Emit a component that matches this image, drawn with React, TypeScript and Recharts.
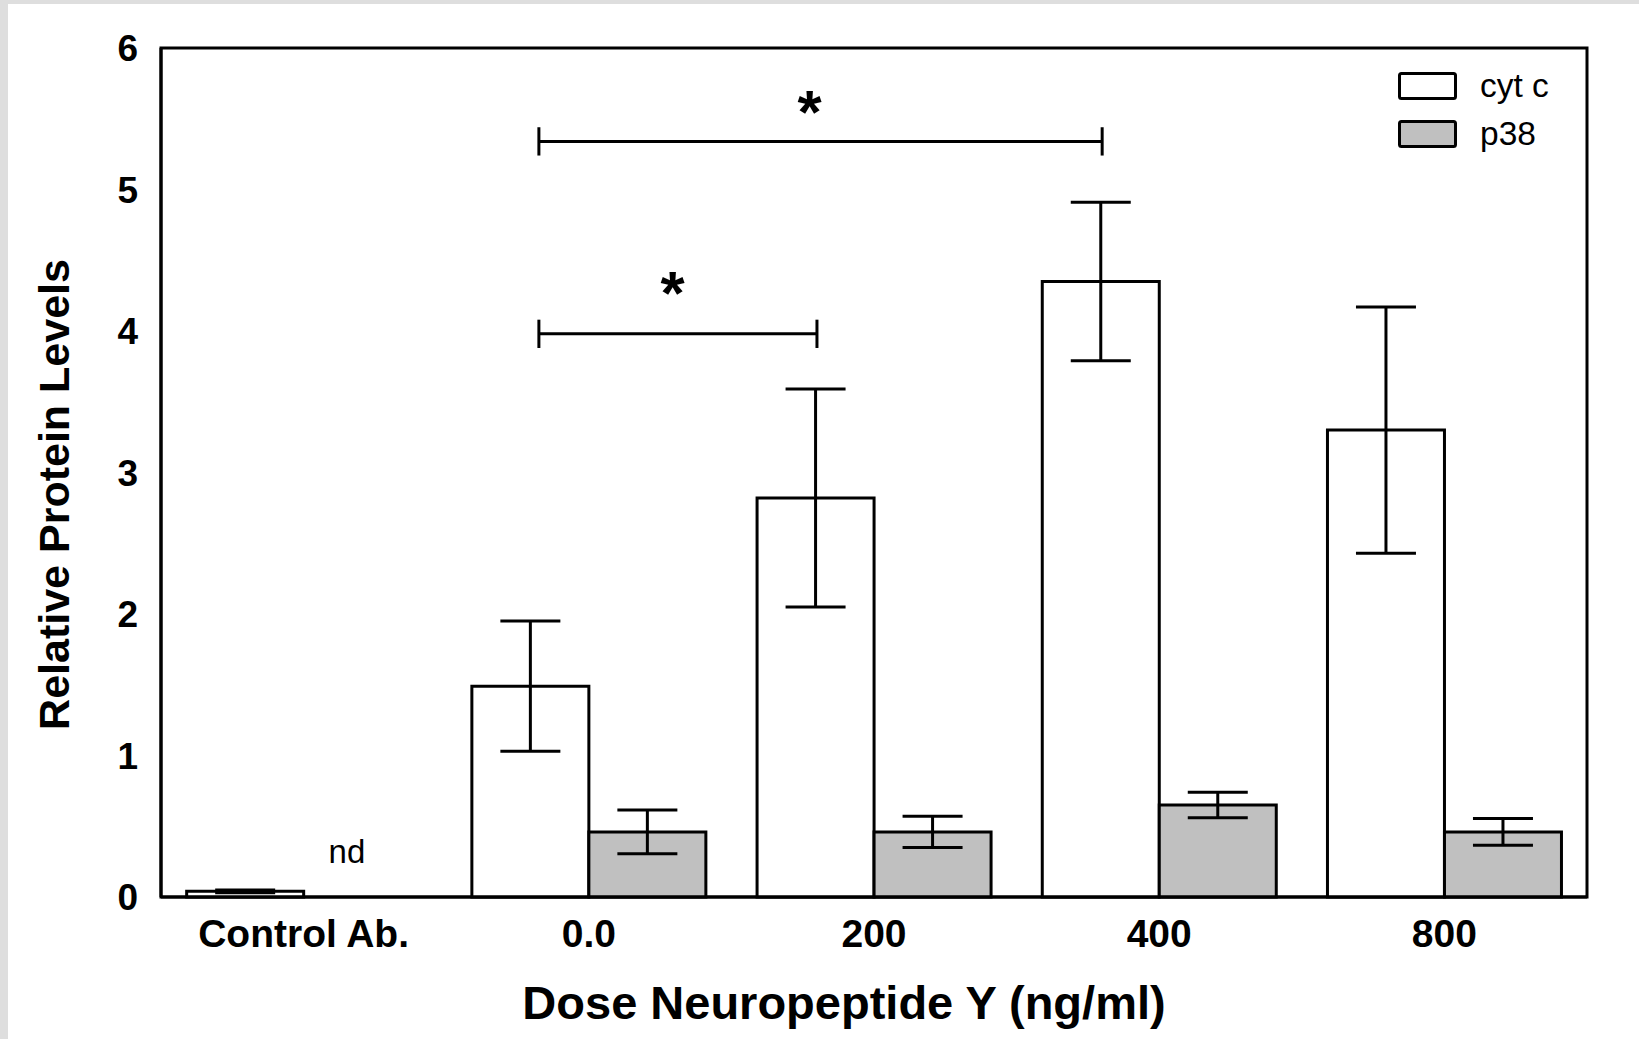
import React from 'react';
import {
  BarChart, Bar, XAxis, YAxis, ErrorBar, ReferenceLine, ReferenceDot, ReferenceArea, Legend,
} from 'recharts';

const doses = ['Control Ab.', '0.0', '200', '400', '800'];
const cytC = [0.04, 1.49, 2.82, 4.35, 3.3];
const cytCErr = [0.01, 0.46, 0.77, 0.56, 0.87];
const p38 = [null, 0.46, 0.46, 0.65, 0.46];
const p38Err = [null, 0.155, 0.11, 0.09, 0.095];
const yTicks = [0, 1, 2, 3, 4, 5, 6];

// significance brackets, in band units along the hidden numeric axis
const brackets = [
  { x1: 1.325, x2: 3.3, y: 5.34 },
  { x1: 1.325, x2: 2.3, y: 3.98 },
];
const stars = [
  { x: 2.274, y: 5.61 },
  { x: 1.794, y: 4.33 },
];

const data = doses.map((dose, i) => ({
  dose,
  cyt: cytC[i],
  cytErr: cytCErr[i],
  p38: p38[i],
  p38Err: p38Err[i],
}));

const FONT = '"Liberation Sans", Arial, sans-serif';
const CAP = 0.1;

const YLabel = ({ viewBox }: any) => {
  const cx = viewBox.x + 46;
  const cy = viewBox.y + viewBox.height / 2 + 22;
  return (
    <text
      x={cx}
      y={cy}
      transform={`rotate(-90 ${cx} ${cy})`}
      textAnchor="middle"
      dominantBaseline="central"
      fontFamily={FONT}
      fontWeight="bold"
      fontSize={43}
      fill="#000"
    >
      Relative Protein Levels
    </text>
  );
};

const XLabel = ({ viewBox }: any) => (
  <text
    x={836}
    y={viewBox.y + 122}
    textAnchor="middle"
    fontFamily={FONT}
    fontWeight="bold"
    fontSize={47}
    fill="#000"
  >
    Dose Neuropeptide Y (ng/ml)
  </text>
);

const LegendBox = () => (
  <svg width={200} height={100} style={{ overflow: 'visible' }}>
    <rect x={1.5} y={1.5} width={56} height={25} rx={2} fill="#fff" stroke="#000" strokeWidth={3} />
    <text x={82} y={25} fontFamily={FONT} fontSize={33.5} fill="#000">cyt c</text>
    <rect x={1.5} y={49.5} width={56} height={25} rx={2} fill="#c0c0c0" stroke="#000" strokeWidth={3} />
    <text x={82} y={73} fontFamily={FONT} fontSize={33.5} fill="#000">p38</text>
  </svg>
);

export default function App() {
  return (
    <div style={{ position: 'absolute', left: 0, top: 0, width: 1639, height: 1039, background: '#dedede' }}>
      <div style={{ position: 'absolute', left: 8, top: 4, width: 1631, height: 1035, background: '#fff' }}>
        <BarChart
          width={1631}
          height={1035}
          data={data}
          margin={{ top: 44, right: 52, bottom: 0, left: 0 }}
          barCategoryGap="9%"
          barGap={0}
        >
          <XAxis
            dataKey="dose"
            height={142}
            axisLine={{ stroke: '#000', strokeWidth: 3 }}
            tickLine={false}
            tickMargin={16}
            interval={0}
            tick={{ fill: '#000', fontSize: 39, fontWeight: 'bold', fontFamily: FONT }}
            label={<XLabel />}
          />
          <XAxis xAxisId="n" dataKey="cyt" type="number" domain={[0, 5]} allowDataOverflow hide />
          <YAxis
            width={153}
            domain={[0, 6]}
            ticks={yTicks}
            interval={0}
            axisLine={{ stroke: '#000', strokeWidth: 3 }}
            tickLine={false}
            tickMargin={17}
            tick={{ fill: '#000', fontSize: 37, fontWeight: 'bold', fontFamily: FONT }}
            label={<YLabel />}
          />
          <ReferenceArea xAxisId="n" x1={0} x2={5} y1={0} y2={6} fill="none" stroke="#000" strokeWidth={3} ifOverflow="visible" />
          <Legend
            content={<LegendBox />}
            wrapperStyle={{ position: 'absolute', left: 1390, top: 68, width: 0, height: 0, overflow: 'visible' }}
          />
          <Bar dataKey="cyt" name="cyt c" fill="#fff" stroke="#000" strokeWidth={3} isAnimationActive={false}>
            <ErrorBar dataKey="cytErr" width={30} stroke="#000" strokeWidth={3} direction="y" />
          </Bar>
          <Bar dataKey="p38" name="p38" fill="#c0c0c0" stroke="#000" strokeWidth={3} isAnimationActive={false}>
            <ErrorBar dataKey="p38Err" width={30} stroke="#000" strokeWidth={3} direction="y" />
          </Bar>
          {brackets.map((b, i) => (
            <ReferenceLine
              key={`h${i}`}
              xAxisId="n"
              segment={[{ x: b.x1, y: b.y }, { x: b.x2, y: b.y }]}
              stroke="#000"
              strokeWidth={3}
            />
          ))}
          {brackets.flatMap((b, i) => [b.x1, b.x2].map((x, j) => (
            <ReferenceLine
              key={`c${i}${j}`}
              xAxisId="n"
              segment={[{ x, y: b.y - CAP }, { x, y: b.y + CAP }]}
              stroke="#000"
              strokeWidth={3}
            />
          )))}
          {stars.map((s, i) => (
            <ReferenceDot
              key={`s${i}`}
              xAxisId="n"
              x={s.x}
              y={s.y}
              r={0}
              shape={(p: any) => (
                <text x={p.cx} y={p.cy + 30} textAnchor="middle" fontFamily={FONT} fontWeight="bold" fontSize={62} fill="#000">
                  *
                </text>
              )}
            />
          ))}
          <ReferenceDot
            xAxisId="n"
            x={0.652}
            y={0.32}
            r={0}
            shape={(p: any) => (
              <text x={p.cx} y={p.cy} textAnchor="middle" dominantBaseline="central" fontFamily={FONT} fontSize={33} fill="#000">
                nd
              </text>
            )}
          />
        </BarChart>
      </div>
    </div>
  );
}
